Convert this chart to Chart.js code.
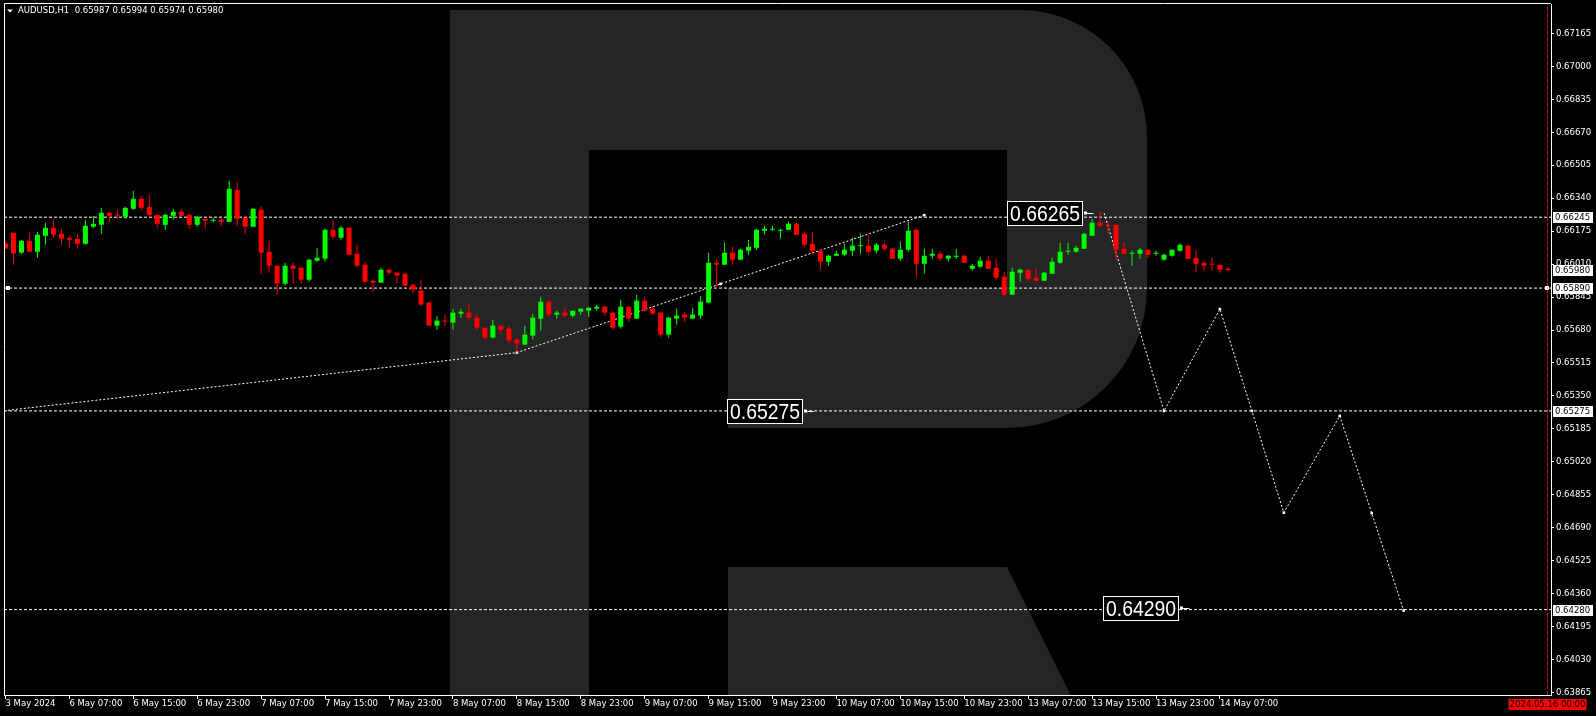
<!DOCTYPE html>
<html>
<head>
<meta charset="utf-8">
<title>AUDUSD H1</title>
<script src="https://cdn.jsdelivr.net/npm/chart.js@4.4.1/dist/chart.umd.min.js"></script>
<style>
    html, body { margin: 0; padding: 0; background: #000; }
    #chart { display: block; }
</style>
</head>
<body>
<canvas id="chart" width="1596" height="716"></canvas>
<script>
// hourly candles, bar 0 = 3 May 23:00
const symbolTitle = "AUDUSD,H1";
const opens = [
    0.66113, 0.66167, 0.66067, 0.66127, 0.66072, 0.66152, 0.66192, 0.66162, 0.66142, 0.66137,
    0.66112, 0.66197, 0.66207, 0.66267, 0.66258, 0.66247, 0.66287, 0.66337, 0.66297, 0.66257,
    0.66207, 0.66252, 0.66272, 0.66257, 0.66207, 0.66237, 0.66227, 0.66232, 0.66222, 0.66382,
    0.66242, 0.66197, 0.66282, 0.66072, 0.66002, 0.65912, 0.66002, 0.65992, 0.65932, 0.66027,
    0.66037, 0.66182, 0.66142, 0.66192, 0.66062, 0.66007, 0.65927, 0.65917, 0.65982, 0.65967,
    0.65962, 0.65907, 0.65877, 0.65817, 0.65702, 0.65727, 0.65717, 0.65762, 0.65767, 0.65742,
    0.65692, 0.65642, 0.65702, 0.65687, 0.65632, 0.65607, 0.65652, 0.65737, 0.65822, 0.65757,
    0.65767, 0.65752, 0.65772, 0.65777, 0.65787, 0.65797, 0.65767, 0.65697, 0.65797, 0.65737,
    0.65827, 0.65787, 0.65767, 0.65657, 0.65737, 0.65757, 0.65737, 0.65752, 0.65817, 0.66017,
    0.66007, 0.66067, 0.66032, 0.66077, 0.66092, 0.66177, 0.66182, 0.66177, 0.66182, 0.66212,
    0.66162, 0.66112, 0.66077, 0.66022, 0.66052, 0.66057, 0.66077, 0.66100, 0.66102, 0.66077,
    0.66107, 0.66087, 0.66037, 0.66082, 0.66182, 0.66012, 0.66052, 0.66062, 0.66037, 0.66047,
    0.66052, 0.65987, 0.65997, 0.66027, 0.65992, 0.65947, 0.65857, 0.65967, 0.65982, 0.65942,
    0.65927, 0.65962, 0.66017, 0.66072, 0.66072, 0.66087, 0.66152, 0.66217, 0.66207, 0.66207,
    0.66087, 0.66062, 0.66062, 0.66082, 0.66062, 0.66032, 0.66052, 0.66077, 0.66102, 0.66042,
    0.66017, 0.66012, 0.66007, 0.65987
];
const highs = [
    0.66122, 0.66167, 0.66132, 0.66167, 0.66172, 0.66217, 0.66232, 0.66187, 0.66152, 0.66162,
    0.66232, 0.66252, 0.66292, 0.66272, 0.66282, 0.66297, 0.66377, 0.66352, 0.66357, 0.66257,
    0.66262, 0.66287, 0.66287, 0.66262, 0.66252, 0.66237, 0.66242, 0.66242, 0.66427, 0.66422,
    0.66242, 0.66292, 0.66297, 0.66127, 0.66007, 0.66017, 0.66017, 0.65997, 0.66037, 0.66092,
    0.66187, 0.66232, 0.66202, 0.66197, 0.66107, 0.66022, 0.65927, 0.65992, 0.65987, 0.65972,
    0.65967, 0.65912, 0.65932, 0.65822, 0.65752, 0.65757, 0.65787, 0.65787, 0.65812, 0.65762,
    0.65692, 0.65732, 0.65702, 0.65702, 0.65637, 0.65702, 0.65762, 0.65847, 0.65832, 0.65777,
    0.65792, 0.65777, 0.65787, 0.65792, 0.65807, 0.65802, 0.65772, 0.65832, 0.65797, 0.65857,
    0.65847, 0.65797, 0.65772, 0.65747, 0.65787, 0.65772, 0.65792, 0.65852, 0.66067, 0.66032,
    0.66117, 0.66097, 0.66087, 0.66132, 0.66187, 0.66202, 0.66202, 0.66187, 0.66222, 0.66217,
    0.66172, 0.66172, 0.66082, 0.66057, 0.66077, 0.66112, 0.66142, 0.66162, 0.66157, 0.66117,
    0.66117, 0.66092, 0.66122, 0.66222, 0.66187, 0.66087, 0.66087, 0.66072, 0.66057, 0.66087,
    0.66057, 0.66012, 0.66047, 0.66052, 0.66037, 0.65972, 0.65992, 0.65987, 0.65982, 0.65987,
    0.65972, 0.66042, 0.66117, 0.66117, 0.66102, 0.66167, 0.66237, 0.66277, 0.66227, 0.66207,
    0.66122, 0.66077, 0.66092, 0.66082, 0.66077, 0.66062, 0.66082, 0.66112, 0.66107, 0.66082,
    0.66022, 0.66042, 0.66007, 0.65994
];
const lows = [
    0.66088, 0.66007, 0.66062, 0.66072, 0.66042, 0.66107, 0.66142, 0.66107, 0.66092, 0.66087,
    0.66107, 0.66192, 0.66162, 0.66222, 0.66237, 0.66237, 0.66282, 0.66277, 0.66247, 0.66187,
    0.66182, 0.66232, 0.66247, 0.66187, 0.66197, 0.66187, 0.66217, 0.66197, 0.66222, 0.66202,
    0.66162, 0.66197, 0.65962, 0.65967, 0.65857, 0.65902, 0.65912, 0.65912, 0.65922, 0.66022,
    0.66022, 0.66137, 0.66132, 0.66057, 0.65992, 0.65917, 0.65872, 0.65917, 0.65957, 0.65912,
    0.65902, 0.65862, 0.65802, 0.65702, 0.65682, 0.65697, 0.65682, 0.65742, 0.65732, 0.65682,
    0.65632, 0.65637, 0.65657, 0.65612, 0.65567, 0.65607, 0.65632, 0.65677, 0.65747, 0.65737,
    0.65742, 0.65742, 0.65757, 0.65747, 0.65777, 0.65752, 0.65682, 0.65687, 0.65722, 0.65737,
    0.65772, 0.65757, 0.65642, 0.65642, 0.65707, 0.65722, 0.65737, 0.65737, 0.65817, 0.65887,
    0.66007, 0.66007, 0.66032, 0.66057, 0.66082, 0.66157, 0.66177, 0.66137, 0.66182, 0.66157,
    0.66097, 0.66057, 0.65982, 0.66002, 0.66052, 0.66052, 0.66052, 0.66062, 0.66062, 0.66062,
    0.66077, 0.66037, 0.66027, 0.66072, 0.65947, 0.65962, 0.66037, 0.66027, 0.66022, 0.66037,
    0.66017, 0.65977, 0.65992, 0.65987, 0.65932, 0.65847, 0.65857, 0.65922, 0.65927, 0.65922,
    0.65927, 0.65962, 0.66012, 0.66057, 0.66067, 0.66087, 0.66152, 0.66197, 0.66162, 0.66032,
    0.66057, 0.66002, 0.66037, 0.66042, 0.66052, 0.66027, 0.66047, 0.66072, 0.66037, 0.65972,
    0.65977, 0.65977, 0.65967, 0.65974
];
const closes = [
    0.66088, 0.66063, 0.66127, 0.66072, 0.66157, 0.66192, 0.66157, 0.66137, 0.66132, 0.66112,
    0.66202, 0.66212, 0.66267, 0.66252, 0.66253, 0.66292, 0.66337, 0.66292, 0.66257, 0.66212,
    0.66257, 0.66272, 0.66252, 0.66207, 0.66247, 0.66227, 0.66232, 0.66222, 0.66387, 0.66237,
    0.66197, 0.66287, 0.66067, 0.66002, 0.65912, 0.66002, 0.65987, 0.65932, 0.66032, 0.66042,
    0.66182, 0.66147, 0.66192, 0.66057, 0.66002, 0.65922, 0.65917, 0.65982, 0.65967, 0.65952,
    0.65902, 0.65882, 0.65807, 0.65702, 0.65727, 0.65722, 0.65767, 0.65772, 0.65742, 0.65692,
    0.65642, 0.65702, 0.65682, 0.65627, 0.65612, 0.65657, 0.65742, 0.65822, 0.65757, 0.65767,
    0.65752, 0.65777, 0.65787, 0.65792, 0.65797, 0.65767, 0.65692, 0.65797, 0.65737, 0.65827,
    0.65777, 0.65762, 0.65657, 0.65742, 0.65752, 0.65742, 0.65757, 0.65822, 0.66017, 0.66007,
    0.66067, 0.66032, 0.66082, 0.66097, 0.66182, 0.66187, 0.66187, 0.66182, 0.66212, 0.66157,
    0.66107, 0.66077, 0.66022, 0.66052, 0.66062, 0.66082, 0.66102, 0.66105, 0.66072, 0.66107,
    0.66087, 0.66037, 0.66082, 0.66177, 0.66012, 0.66052, 0.66062, 0.66037, 0.66052, 0.66052,
    0.66017, 0.66002, 0.66027, 0.65987, 0.65942, 0.65857, 0.65972, 0.65982, 0.65937, 0.65927,
    0.65967, 0.66022, 0.66072, 0.66077, 0.66092, 0.66162, 0.66217, 0.66202, 0.66202, 0.66082,
    0.66062, 0.66067, 0.66082, 0.66057, 0.66067, 0.66057, 0.66082, 0.66107, 0.66037, 0.66012,
    0.66002, 0.66007, 0.65982, 0.65980
];

// time axis labels (bar index -> text)
const timeTickBars = [0, 8, 16, 24, 32, 40, 48, 56, 64, 72, 80, 88, 96, 104, 112, 120, 128, 136, 144, 152];
const timeTickLabels = [
    "3 May 2024", "6 May 07:00", "6 May 15:00", "6 May 23:00", "7 May 07:00", "7 May 15:00",
    "7 May 23:00", "8 May 07:00", "8 May 15:00", "8 May 23:00", "9 May 07:00", "9 May 15:00",
    "9 May 23:00", "10 May 07:00", "10 May 15:00", "10 May 23:00", "13 May 07:00", "13 May 15:00",
    "13 May 23:00", "14 May 07:00"
];
const priceTicks = [
    0.67165, 0.67000, 0.66835, 0.66670, 0.66505, 0.66340, 0.66175, 0.66010, 0.65845, 0.65680,
    0.65515, 0.65350, 0.65185, 0.65020, 0.64855, 0.64690, 0.64525, 0.64360, 0.64195, 0.64030, 0.63865
];

// horizontal levels and forecast paths
const levelPrices = [0.66245, 0.65890, 0.65275, 0.64280];
const pathUpBars = [-0.2, 64, 89.5, 115];
const pathUpPrices = [0.65276, 0.65567, 0.65911, 0.66255];
const pathDownBars = [137.5, 145, 152, 156, 160, 167, 171, 175];
const pathDownPrices = [0.66265, 0.65275, 0.65785, 0.65275, 0.64765, 0.65250, 0.64763, 0.64275];
const noteBars = [135, 100, 147];
const notePrices = [0.66265, 0.65275, 0.64290];
const dateLineBar = 193;
const dateLineLabel = "2024.05.16 00:00";

const X_MIN = -0.1875, X_MAX = 193.4375;
const Y_MIN = 0.638525, Y_MAX = 0.673125;
const FONT = '"DejaVu Sans", "Liberation Sans", sans-serif';
const FONT_SIZE = 8.5;
const UP = '#00ff00', DOWN = '#ff0000';

const candleColors = closes.map((c, i) => c >= opens[i] ? UP : DOWN);
const bodyData = opens.map((o, i) => ({ x: i, y: [o, closes[i]] }));
const wickData = lows.map((l, i) => ({ x: i, y: [l, highs[i]] }));

function pts(xs, ys) {
    return xs.map((x, i) => ({ x: x, y: ys[i] }));
}

const levelSets = levelPrices.map(p => ({
    type: 'line',
    data: [{ x: X_MIN, y: p }, { x: X_MAX, y: p }],
    borderColor: '#ffffff',
    borderWidth: 1,
    borderDash: [3, 2],
    pointRadius: 0,
    order: 6
}));

const forecastStyle = {
    type: 'line',
    borderColor: '#ffffff',
    borderWidth: 1,
    borderDash: [2, 2],
    pointStyle: 'rect',
    pointRadius: c => c.dataIndex === 0 ? 0 : 1.8,
    pointBackgroundColor: '#ffffff',
    pointBorderWidth: 0,
    order: 5
};

// RoboForex "R" watermark + frame + labels
const decor = {
    id: 'decor',
    beforeDraw(chart) {
        const ctx = chart.ctx;
        const a = chart.chartArea;
        ctx.save();
        ctx.fillStyle = '#000';
        ctx.fillRect(0, 0, chart.width, chart.height);
        ctx.beginPath();
        ctx.rect(a.left, a.top, a.right - a.left, a.bottom - a.top);
        ctx.clip();
        ctx.fillStyle = '#252525';
        ctx.beginPath();
        ctx.moveTo(450, 10);
        ctx.lineTo(1020, 10);
        ctx.arcTo(1147, 10, 1147, 137, 127);
        ctx.lineTo(1147, 288);
        ctx.arcTo(1147, 428, 1007, 428, 140);
        ctx.lineTo(728, 428);
        ctx.lineTo(728, 288);
        ctx.lineTo(1007, 288);
        ctx.lineTo(1007, 150);
        ctx.lineTo(589, 150);
        ctx.lineTo(589, 700);
        ctx.lineTo(450, 700);
        ctx.closePath();
        ctx.fill();
        ctx.beginPath();
        ctx.moveTo(728, 567);
        ctx.lineTo(1007, 567);
        ctx.lineTo(1073, 700);
        ctx.lineTo(728, 700);
        ctx.closePath();
        ctx.fill();
        ctx.restore();
    },
    afterDraw(chart) {
        const ctx = chart.ctx;
        const a = chart.chartArea;
        const xs = chart.scales.x, ys = chart.scales.y;
        ctx.save();

        // top / left frame
        ctx.strokeStyle = '#fff';
        ctx.lineWidth = 1;
        ctx.beginPath();
        ctx.moveTo(a.left + 0.5, a.bottom);
        ctx.lineTo(a.left + 0.5, a.top - 0.5);
        ctx.lineTo(a.right, a.top - 0.5);
        ctx.stroke();

        // anchors of the 0.65890 level
        const ya = Math.round(ys.getPixelForValue(levelPrices[1]));
        ctx.fillStyle = '#fff';
        ctx.fillRect(a.left + 2, ya - 2, 4, 4);
        ctx.fillRect(a.right - 6, ya - 2, 4, 4);

        // boxed price notes
        notePrices.forEach((p, i) => {
            const xr = Math.round(xs.getPixelForValue(noteBars[i])) + 0.5;
            const yc = Math.round(ys.getPixelForValue(p)) + 0.5;
            ctx.fillStyle = '#000';
            ctx.fillRect(xr - 77, yc - 12, 75, 24);
            ctx.strokeStyle = '#fff';
            ctx.strokeRect(xr - 77, yc - 12, 75, 24);
            ctx.fillStyle = '#fff';
            ctx.fillRect(xr - 0.5, yc - 2, 3, 3);
            ctx.beginPath();
            ctx.moveTo(xr + 2, yc);
            ctx.lineTo(xr + 9, yc);
            ctx.stroke();
            ctx.save();
            ctx.translate(xr - 39.5, yc + 1);
            ctx.scale(0.88, 1);
            ctx.font = '22px "Liberation Sans", sans-serif';
            ctx.textAlign = 'center';
            ctx.textBaseline = 'middle';
            ctx.fillText(p.toFixed(5), 0, 0);
            ctx.restore();
        });

        // price tags on the right axis
        ctx.font = FONT_SIZE + 'px ' + FONT;
        ctx.textBaseline = 'middle';
        ctx.textAlign = 'left';
        const tags = levelPrices.concat([closes[closes.length - 1]]);
        tags.forEach(p => {
            const y = Math.round(ys.getPixelForValue(p));
            ctx.fillStyle = '#fff';
            ctx.fillRect(a.right + 2, y - 5, 40, 11);
            ctx.fillStyle = '#000';
            ctx.fillText(p.toFixed(5), a.right + 4, y + 0.5);
        });

        // date tag under the red line
        const dx = xs.getPixelForValue(dateLineBar);
        ctx.fillStyle = '#ff0000';
        ctx.fillRect(dx - 39, a.bottom + 4, 78, 11);
        ctx.fillStyle = '#000';
        ctx.textAlign = 'center';
        ctx.fillText(dateLineLabel, dx, a.bottom + 9.5);

        // title
        const last = closes.length - 1;
        ctx.fillStyle = '#fff';
        ctx.beginPath();
        ctx.moveTo(7, 9.5);
        ctx.lineTo(13, 9.5);
        ctx.lineTo(10, 12.5);
        ctx.closePath();
        ctx.fill();
        ctx.textAlign = 'left';
        ctx.fillText(symbolTitle + '  ' + [opens[last], highs[last], lows[last], closes[last]]
            .map(v => v.toFixed(5)).join(' '), 18, 11);
        ctx.restore();
    }
};

const ctx = document.getElementById('chart');
new Chart(ctx, {
    type: 'bar',
    data: {
        datasets: [
            {
                label: 'Body',
                data: bodyData,
                backgroundColor: candleColors,
                barThickness: 5,
                grouped: false,
                borderWidth: 0,
                inflateAmount: 0,
                order: 0
            },
            {
                label: 'Wick',
                data: wickData,
                backgroundColor: candleColors,
                barThickness: 1,
                grouped: false,
                borderWidth: 0,
                inflateAmount: 0,
                order: 1
            },
            ...levelSets,
            Object.assign({ label: 'Path up', data: pts(pathUpBars, pathUpPrices) }, forecastStyle),
            Object.assign({ label: 'Path down', data: pts(pathDownBars, pathDownPrices) }, forecastStyle),
            {
                type: 'line',
                label: 'Date line',
                data: [{ x: dateLineBar, y: Y_MIN }, { x: dateLineBar, y: Y_MAX }],
                borderColor: '#e00000',
                borderWidth: 1,
                borderDash: [4, 2],
                pointRadius: 0,
                order: 7
            }
        ]
    },
    options: {
        responsive: false,
        animation: false,
        devicePixelRatio: 1,
        events: [],
        layout: { padding: { left: 2, top: 3, right: 0, bottom: 0 } },
        plugins: {
            legend: { display: false },
            tooltip: { enabled: false },
            title: { display: false }
        },
        scales: {
            x: {
                type: 'linear',
                position: 'bottom',
                min: X_MIN,
                max: X_MAX,
                offset: false,
                bounds: 'data',
                grid: { drawOnChartArea: false, drawTicks: true, tickLength: 4, color: '#fff', tickColor: '#fff', offset: false },
                border: { display: true, color: '#fff', width: 1 },
                ticks: {
                    color: '#fff',
                    font: { family: FONT, size: FONT_SIZE },
                    padding: 0,
                    align: 'start',
                    autoSkip: false,
                    maxRotation: 0,
                    minRotation: 0,
                    callback: function (value) {
                        const i = timeTickBars.indexOf(value);
                        return i >= 0 ? timeTickLabels[i] : '';
                    }
                },
                afterBuildTicks: function (scale) {
                    scale.ticks = timeTickBars.map(v => ({ value: v }));
                },
                afterFit: function (scale) {
                    scale.height = 21;
                    scale.paddingLeft = 0;
                    scale.paddingRight = 0;
                }
            },
            y: {
                type: 'linear',
                position: 'right',
                min: Y_MIN,
                max: Y_MAX,
                beginAtZero: false,
                bounds: 'data',
                grid: { drawOnChartArea: false, drawTicks: true, tickLength: 3, color: '#fff', tickColor: '#fff' },
                border: { display: true, color: '#fff', width: 1 },
                ticks: {
                    color: '#fff',
                    font: { family: FONT, size: FONT_SIZE },
                    padding: 2,
                    autoSkip: false,
                    callback: function (value) {
                        return value.toFixed(5);
                    }
                },
                afterBuildTicks: function (scale) {
                    scale.ticks = priceTicks.map(v => ({ value: v }));
                },
                afterFit: function (scale) {
                    scale.width = 45;
                    scale.paddingTop = 0;
                    scale.paddingBottom = 0;
                }
            }
        }
    },
    plugins: [decor]
});
</script>
</body>
</html>
